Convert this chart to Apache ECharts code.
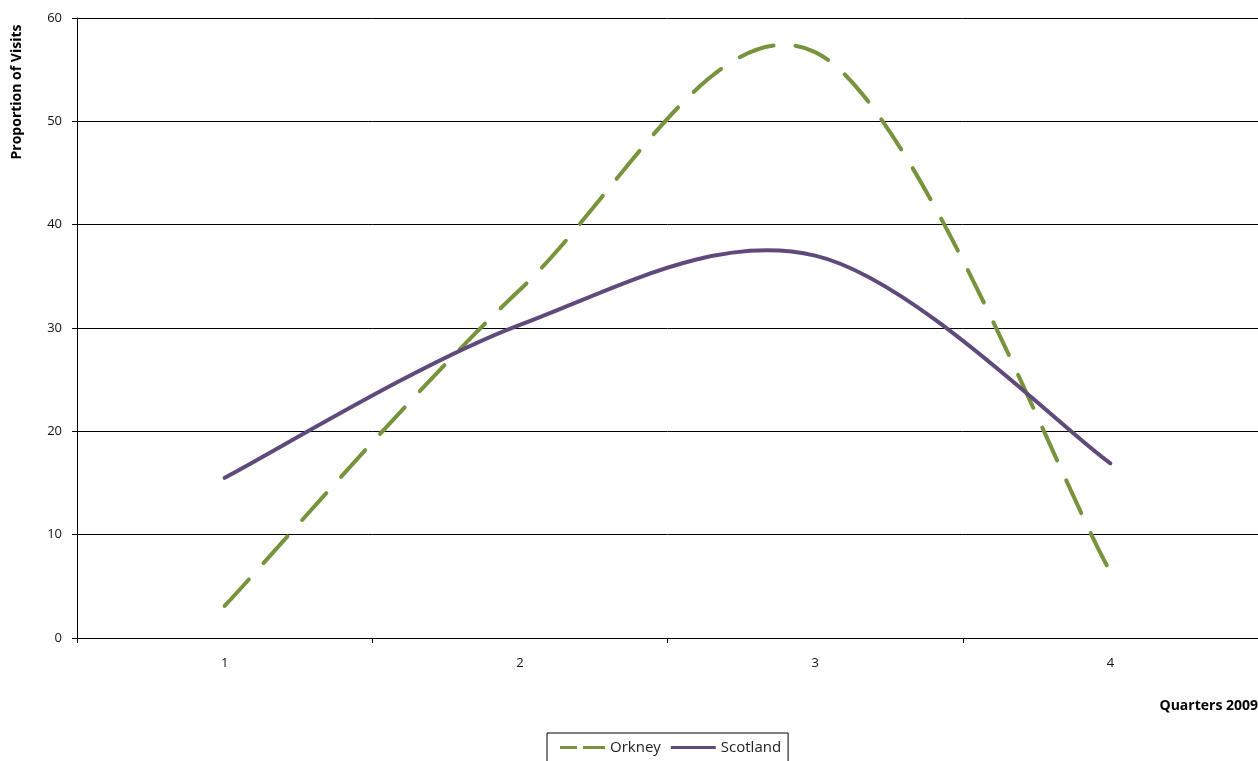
<!DOCTYPE html>
<html>
<head>
<meta charset="utf-8">
<script src="https://cdn.jsdelivr.net/npm/echarts@6/dist/echarts.min.js"></script>
<style>
html,body{margin:0;padding:0;background:#fff;}
#chart{width:1258px;height:761px;}
</style>
</head>
<body>
<div id="chart"></div>
<script>
var categories = ['1', '2', '3', '4'];
var orkney = [3.1, 33.7, 56.7, 6.4];
var scotland = [15.5, 30.3, 37.0, 16.9];
var yTicks = [0, 10, 20, 30, 40, 50, 60];

var FONT = '"Open Sans", Lato, sans-serif';
var ORKNEY_COLOR = '#77933C';
var SCOTLAND_COLOR = '#604A7B';

// Excel-style smoothed line (Catmull-Rom style Bezier) drawn through the axis coordinates
function makeRender(values, color, dash) {
  return function (params, api) {
    if (params.dataIndex !== 0) return null;
    var pts = values.map(function (v, i) { return api.coord([i, v]); });
    var n = pts.length;
    var d = 'M' + pts[0][0] + ',' + pts[0][1];
    for (var i = 0; i < n - 1; i++) {
      var p0 = pts[Math.max(i - 1, 0)];
      var p1 = pts[i];
      var p2 = pts[i + 1];
      var p3 = pts[Math.min(i + 2, n - 1)];
      var c1x = p1[0] + (p2[0] - p0[0]) / 6;
      var c1y = p1[1] + (p2[1] - p0[1]) / 6;
      var c2x = p2[0] - (p3[0] - p1[0]) / 6;
      var c2y = p2[1] - (p3[1] - p1[1]) / 6;
      d += ' C' + c1x + ',' + c1y + ' ' + c2x + ',' + c2y + ' ' + p2[0] + ',' + p2[1];
    }
    var style = { fill: 'none', stroke: color, lineWidth: 4, lineCap: 'round', lineJoin: 'round' };
    if (dash) style.lineDash = dash;
    return { type: 'path', shape: { pathData: d }, style: style, silent: true };
  };
}

var chart = echarts.init(document.getElementById('chart'));
chart.setOption({
  animation: false,
  backgroundColor: '#ffffff',
  textStyle: { fontFamily: FONT },
  grid: { left: 77, right: 0, top: 18, bottom: 123, containLabel: false },
  xAxis: {
    type: 'category',
    data: categories,
    boundaryGap: true,
    axisLine: { show: true, lineStyle: { color: '#000', width: 1 } },
    axisTick: { show: true, length: 5, lineStyle: { color: '#000' } },
    axisLabel: { color: '#111', fontSize: 13, margin: 19, fontFamily: FONT },
    splitLine: { show: false }
  },
  yAxis: {
    type: 'value',
    min: yTicks[0],
    max: yTicks[yTicks.length - 1],
    interval: 10,
    axisLine: { show: true, lineStyle: { color: '#000', width: 1 } },
    axisTick: { show: true, length: 5, lineStyle: { color: '#000' } },
    axisLabel: { color: '#111', fontSize: 13, margin: 15, fontFamily: FONT },
    splitLine: { show: true, lineStyle: { color: '#000', width: 1 } }
  },
  legend: {
    left: 547,
    top: 733,
    orient: 'horizontal',
    backgroundColor: '#fff',
    borderColor: '#000',
    borderWidth: 1,
    borderRadius: 0,
    padding: [7, 7, 12, 13],
    itemGap: 10,
    itemWidth: 45,
    itemHeight: 3,
    textStyle: { color: '#222', fontSize: 15, fontFamily: FONT },
    data: [
      { name: 'Orkney', icon: 'path://M0,0 L17,0 L17,3 L0,3 Z M23,0 L45,0 L45,3 L23,3 Z' },
      { name: 'Scotland', icon: 'path://M0,0 L45,0 L45,3 L0,3 Z' }
    ]
  },
  graphic: [
    {
      type: 'text',
      x: 17, y: 92,
      rotation: Math.PI / 2,
      style: {
        text: 'Proportion of Visits',
        fontFamily: FONT, fontSize: 14, fontWeight: 'bold', fill: '#000',
        align: 'center', verticalAlign: 'middle'
      }
    },
    {
      type: 'text',
      x: 1258, y: 706,
      style: {
        text: 'Quarters 2009',
        fontFamily: FONT, fontSize: 14, fontWeight: 'bold', fill: '#000',
        align: 'right', verticalAlign: 'middle'
      }
    }
  ],
  series: [
    {
      name: 'Orkney',
      type: 'custom',
      data: orkney.map(function (v, i) { return [i, v]; }),
      encode: { x: 0, y: 1 },
      itemStyle: { color: ORKNEY_COLOR },
      renderItem: makeRender(orkney, ORKNEY_COLOR, [36, 22]),
      z: 3
    },
    {
      name: 'Scotland',
      type: 'custom',
      data: scotland.map(function (v, i) { return [i, v]; }),
      encode: { x: 0, y: 1 },
      itemStyle: { color: SCOTLAND_COLOR },
      renderItem: makeRender(scotland, SCOTLAND_COLOR, null),
      z: 4
    }
  ]
});
</script>
</body>
</html>
